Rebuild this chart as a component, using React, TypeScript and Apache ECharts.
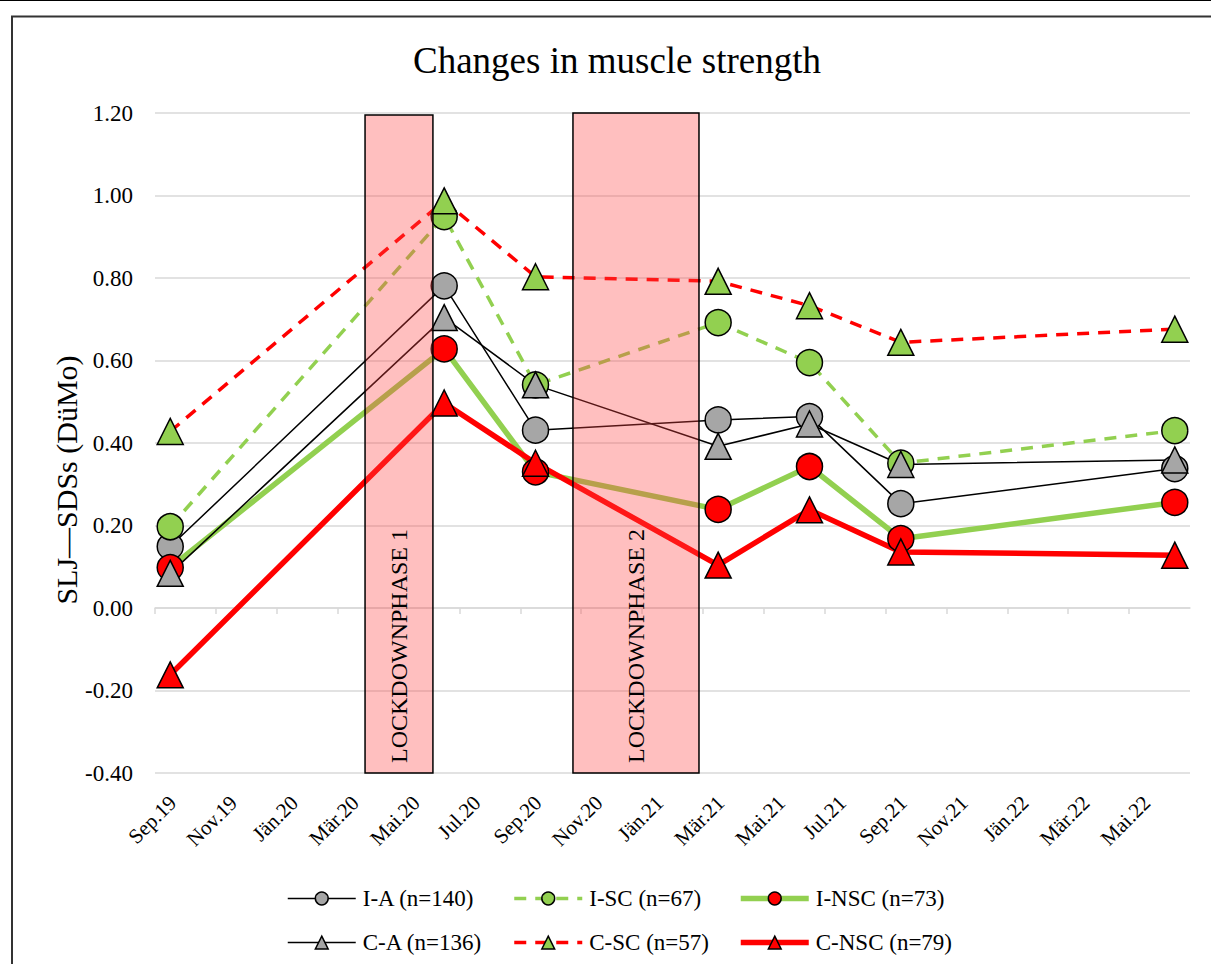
import React, { useEffect, useRef } from "react";
import * as echarts from "echarts";

// ---- data ----
const monthLabels = [
  "Sep.19", "Nov.19", "Jän.20", "Mär.20", "Mai.20", "Jul.20", "Sep.20", "Nov.20",
  "Jän.21", "Mär.21", "Mai.21", "Jul.21", "Sep.21", "Nov.21", "Jän.22", "Mär.22", "Mai.22",
];
// measurement months (plotted in the middle of the month)
const measureDates = ["2019-09", "2020-06", "2020-09", "2021-03", "2021-06", "2021-09", "2022-06"];

const iA = [0.149, 0.781, 0.431, 0.456, 0.464, 0.253, 0.338];
const iSC = [0.197, 0.949, 0.541, 0.692, 0.595, 0.351, 0.43];
const iNSC = [0.098, 0.628, 0.33, 0.239, 0.343, 0.168, 0.256];
const cA = [0.084, 0.704, 0.541, 0.392, 0.446, 0.348, 0.359];
const cSC = [0.428, 0.987, 0.803, 0.792, 0.733, 0.644, 0.676];
const cNSC = [-0.162, 0.497, 0.351, 0.104, 0.238, 0.136, 0.128];

// lockdown phases: [start month offset, end month offset, top value, label]
const lockdowns: [number, number, number, string][] = [
  [6.9, 9.13, 1.195, "LOCKDOWNPHASE 1"],
  [13.73, 17.87, 1.2, "LOCKDOWNPHASE 2"],
];

const seriesNames = [
  "I-A (n=140)", "I-SC (n=67)", "I-NSC (n=73)",
  "C-A (n=136)", "C-SC (n=57)", "C-NSC (n=79)",
];

const yMin = -0.4;
const yMax = 1.2;
const yStep = 0.2;
const xMax = 34;

const monthOffset = (d: string) => {
  const [y, m] = d.split("-").map(Number);
  return (y - 2019) * 12 + (m - 9) + 0.5;
};

const FONT = '"Liberation Serif", "Times New Roman", serif';
const GREEN = "#92d050";
const RED = "#ff0000";
const GRAY = "#a6a6a6";

export default function App() {
  const ref = useRef<HTMLDivElement>(null);
  useEffect(() => {
    document.body.style.margin = "0";
    const chart = echarts.init(ref.current!, null, { renderer: "svg" });
    const xs = measureDates.map(monthOffset);
    const pts = (vals: number[]) => vals.map((v, i) => [xs[i], v]);
    const marker = (color: string) => ({ color, borderColor: "#000", borderWidth: 1.5 });

    const lineSeries = [
      { name: seriesNames[0], data: pts(iA), symbol: "circle", itemStyle: marker(GRAY), lineStyle: { color: "#000", width: 1.5 } },
      { name: seriesNames[1], data: pts(iSC), symbol: "circle", itemStyle: marker(GREEN), lineStyle: { color: GREEN, width: 3.5, type: [12, 9] } },
      { name: seriesNames[2], data: pts(iNSC), symbol: "circle", itemStyle: marker(RED), lineStyle: { color: GREEN, width: 5.5 } },
      { name: seriesNames[3], data: pts(cA), symbol: "triangle", itemStyle: marker(GRAY), lineStyle: { color: "#000", width: 1.5 } },
      { name: seriesNames[4], data: pts(cSC), symbol: "triangle", itemStyle: marker(GREEN), lineStyle: { color: RED, width: 3.5, type: [12, 9] } },
      { name: seriesNames[5], data: pts(cNSC), symbol: "triangle", itemStyle: marker(RED), lineStyle: { color: RED, width: 5.5 } },
    ].map((s) => ({
      ...s,
      type: "line",
      symbolSize: 26,
      showAllSymbol: true,
      z: 3,
      emphasis: { disabled: true },
    }));

    const legends = seriesNames.map((name, i) => ({
      left: 287 + (i % 3) * 225.5,
      top: i < 3 ? 887 : 931,
      itemWidth: 68,
      itemHeight: 16,
      padding: 0,
      selectedMode: false,
      data: [name],
      lineStyle: { width: "inherit" },
      itemStyle: { borderWidth: 1.5, borderColor: "#000" },
      textStyle: { fontFamily: FONT, fontSize: 23, color: "#000", padding: [0, 0, 0, 2] },
    }));

    chart.setOption({
      animation: false,
      grid: { left: 155, top: 113, width: 1035, height: 660, containLabel: false, outerBoundsMode: "none" },
      xAxis: {
        type: "value",
        min: 0,
        max: xMax,
        interval: 2,
        axisLine: { onZero: true, lineStyle: { color: "#d9d9d9", width: 1.5 } },
        axisTick: { show: true, length: 6, lineStyle: { color: "#d9d9d9", width: 1.5 } },
        splitLine: { show: false },
        axisLabel: {
          rotate: 45,
          margin: 44,
          padding: [0, -25, 0, 0],
          fontFamily: FONT,
          fontSize: 21,
          color: "#000",
          showMaxLabel: false,
          hideOverlap: false,
          formatter: (v: number) => monthLabels[Math.round(v / 2)] ?? "",
        },
      },
      yAxis: {
        type: "value",
        min: yMin,
        max: yMax,
        interval: yStep,
        axisLine: { show: false },
        axisTick: { show: false },
        splitLine: { lineStyle: { color: "#d9d9d9", width: 1.5 } },
        axisLabel: {
          margin: 22,
          fontFamily: FONT,
          fontSize: 23,
          color: "#000",
          formatter: (v: number) => v.toFixed(2),
        },
      },
      legend: legends,
      graphic: [
        { type: "line", shape: { x1: 0, y1: 0.5, x2: 1211, y2: 0.5 }, style: { stroke: "#000", lineWidth: 1 } },
        { type: "rect", shape: { x: 12, y: 16.5, width: 1250, height: 1000 }, style: { fill: "none", stroke: "#333", lineWidth: 2 } },
        {
          type: "text",
          x: 617,
          y: 60,
          style: { text: "Changes in muscle strength", font: `37px ${FONT}`, fill: "#000", textAlign: "center", textVerticalAlign: "middle" },
        },
        {
          type: "text",
          x: 66,
          y: 480,
          rotation: Math.PI / 2,
          style: { text: "SLJ—SDSs (DüMo)", font: `30px ${FONT}`, fill: "#000", textAlign: "center", textVerticalAlign: "middle" },
        },
      ],
      series: [
        ...lineSeries,
        {
          type: "custom",
          z: 10,
          silent: true,
          data: lockdowns.map((l) => [l[0], l[1], l[2]]),
          renderItem: (params: any, api: any) => {
            const idx = params.dataIndex;
            const p0 = api.coord([api.value(0), api.value(2)]);
            const p1 = api.coord([api.value(1), yMin]);
            return {
              type: "group",
              children: [
                {
                  type: "rect",
                  shape: { x: p0[0], y: p0[1], width: p1[0] - p0[0], height: p1[1] - p0[1] },
                  style: { fill: "rgba(255,68,68,0.34)", stroke: "#000", lineWidth: 1.5 },
                },
                {
                  type: "text",
                  x: (p0[0] + p1[0]) / 2,
                  y: p1[1] - 10,
                  rotation: Math.PI / 2,
                  style: { text: lockdowns[idx][3], font: `24px ${FONT}`, fill: "#000", textAlign: "left", textVerticalAlign: "middle" },
                },
              ],
            };
          },
        },
      ],
    });
    return () => chart.dispose();
  }, []);
  return <div ref={ref} style={{ width: 1211, height: 964 }} />;
}
